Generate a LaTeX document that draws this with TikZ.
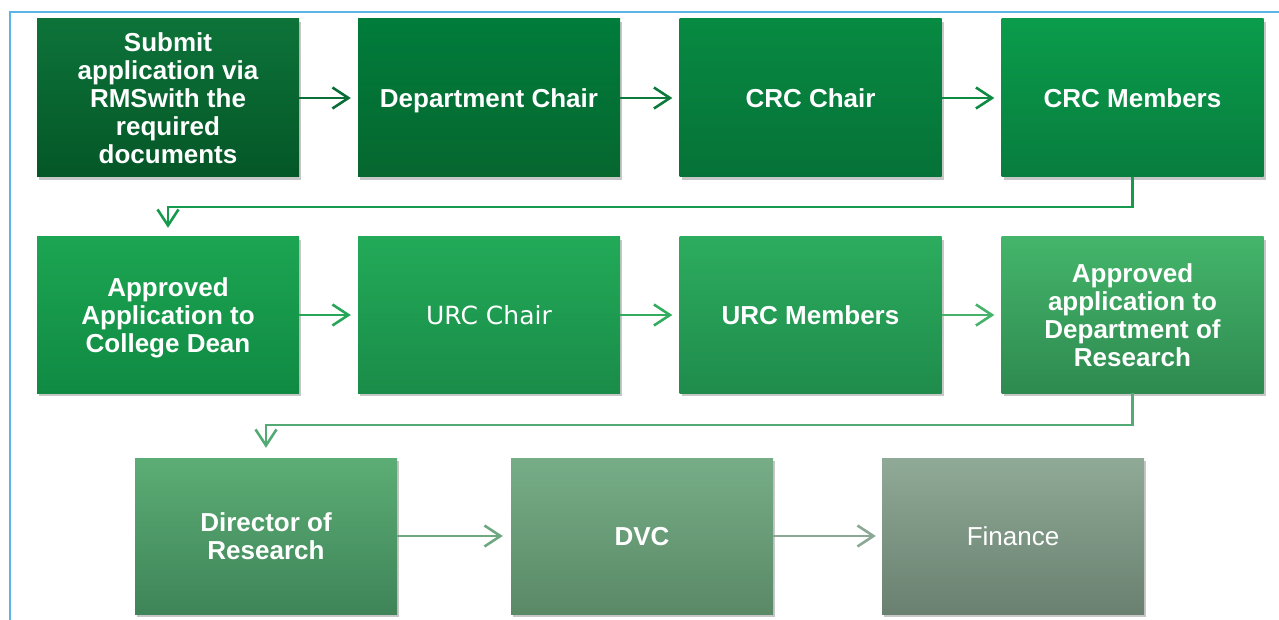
\documentclass[tikz,border=0pt]{standalone}
\usepackage{fontspec}
\setmainfont{Liberation Sans}
\newfontfamily\verd{DejaVu Sans}
\usetikzlibrary{arrows.meta,shadows,calc}
\definecolor{bordblue}{HTML}{5DB2E6}
\definecolor{t1}{HTML}{0D7339}\definecolor{u1}{HTML}{045727}
\definecolor{t2}{HTML}{007C3B}\definecolor{u2}{HTML}{06672F}
\definecolor{t3}{HTML}{078A42}\definecolor{u3}{HTML}{067237}
\definecolor{t4}{HTML}{0A9C4B}\definecolor{u4}{HTML}{087D3E}
\definecolor{t5}{HTML}{1CA552}\definecolor{u5}{HTML}{108A43}
\definecolor{t6}{HTML}{22AA58}\definecolor{u6}{HTML}{1A8C49}
\definecolor{t7}{HTML}{2CAC5E}\definecolor{u7}{HTML}{1F8C4C}
\definecolor{t8}{HTML}{44B56A}\definecolor{u8}{HTML}{2E8A50}
\definecolor{t9}{HTML}{5CAD75}\definecolor{u9}{HTML}{3E8458}
\definecolor{t10}{HTML}{76AD87}\definecolor{u10}{HTML}{5A8966}
\definecolor{t11}{HTML}{8FAA96}\definecolor{u11}{HTML}{6A8070}
\definecolor{c1}{RGB}{10,110,56}
\definecolor{c2}{RGB}{11,122,60}
\definecolor{c3}{RGB}{14,138,68}
\definecolor{c4}{RGB}{22,154,78}
\definecolor{c5}{RGB}{38,166,88}
\definecolor{c6}{RGB}{52,172,96}
\definecolor{c7}{RGB}{70,178,108}
\definecolor{c8}{RGB}{84,170,116}
\definecolor{c9}{RGB}{110,168,128}
\definecolor{c10}{RGB}{138,168,148}
\begin{document}
\begin{tikzpicture}[x=1pt,y=-1pt,
  box/.style={rectangle, minimum width=262pt, inner sep=0pt, text=white,
    align=center, text depth=0pt, font=\bfseries\fontsize{26}{28}\selectfont,
    drop shadow={shadow xshift=2pt, shadow yshift=-3pt, fill=black, opacity=0.22}},
  r1/.style={box, minimum height=158pt},
  r2/.style={box, minimum height=156pt},
  conn/.style={line width=2.6pt, -{Straight Barb[length=16pt,width=21pt,line width=2.6pt]}},
]
\useasboundingbox (0,0) rectangle (1279,620);
\draw[bordblue, line width=2.6pt] (10,620) -- (10,12) -- (1279,12);

% Row 1
\node[r1, top color=t1, bottom color=u1] (b1) at (168,98) {Submit\\application via\\RMSwith the\\required\\documents};
\node[r1, top color=t2, bottom color=u2] (b2) at (489,98) {Department Chair};
\node[r1, top color=t3, bottom color=u3] (b3) at (810.5,98) {CRC Chair};
\node[r1, top color=t4, bottom color=u4] (b4) at (1132.5,98) {CRC Members};

% Row 2
\node[r2, top color=t5, bottom color=u5] (b5) at (168,315) {Approved\\Application to\\College Dean};
\node[r2, top color=t6, bottom color=u6] (b6) at (489,315) {\verd\mdseries\fontsize{25}{28}\selectfont URC Chair};
\node[r2, top color=t7, bottom color=u7] (b7) at (810.5,315) {URC Members};
\node[r2, top color=t8, bottom color=u8] (b8) at (1132.5,315) {Approved\\application to\\Department of\\Research};

% Row 3
\node[r2, top color=t9, bottom color=u9] (b9) at (266,536) {Director of\\Research};
\node[r2, top color=t10, bottom color=u10] (b10) at (642,536) {DVC};
\node[r2, top color=t11, bottom color=u11, font=\mdseries\fontsize{26}{28}\selectfont] (b11) at (1013,536) {Finance};

\coordinate (m1) at (0,207);
\coordinate (m2) at (0,425);

% Connectors
\draw[conn, c1, shorten >=7pt] (b1.east) -- (b2.west);
\draw[conn, c2, shorten >=7pt] (b2.east) -- (b3.west);
\draw[conn, c3, shorten >=7pt] (b3.east) -- (b4.west);
\draw[conn, c4, shorten >=9pt] (b4.south) -- (b4.south |- m1) -| (b5.north);
\draw[conn, c5, shorten >=7pt] (b5.east) -- (b6.west);
\draw[conn, c6, shorten >=7pt] (b6.east) -- (b7.west);
\draw[conn, c7, shorten >=7pt] (b7.east) -- (b8.west);
\draw[conn, c8, shorten >=10pt] (b8.south) -- (b8.south |- m2) -| (b9.north);
\draw[conn, c9, shorten >=8pt] (b9.east) -- (b10.west);
\draw[conn, c10, shorten >=6pt] (b10.east) -- (b11.west);
\end{tikzpicture}
\end{document}
